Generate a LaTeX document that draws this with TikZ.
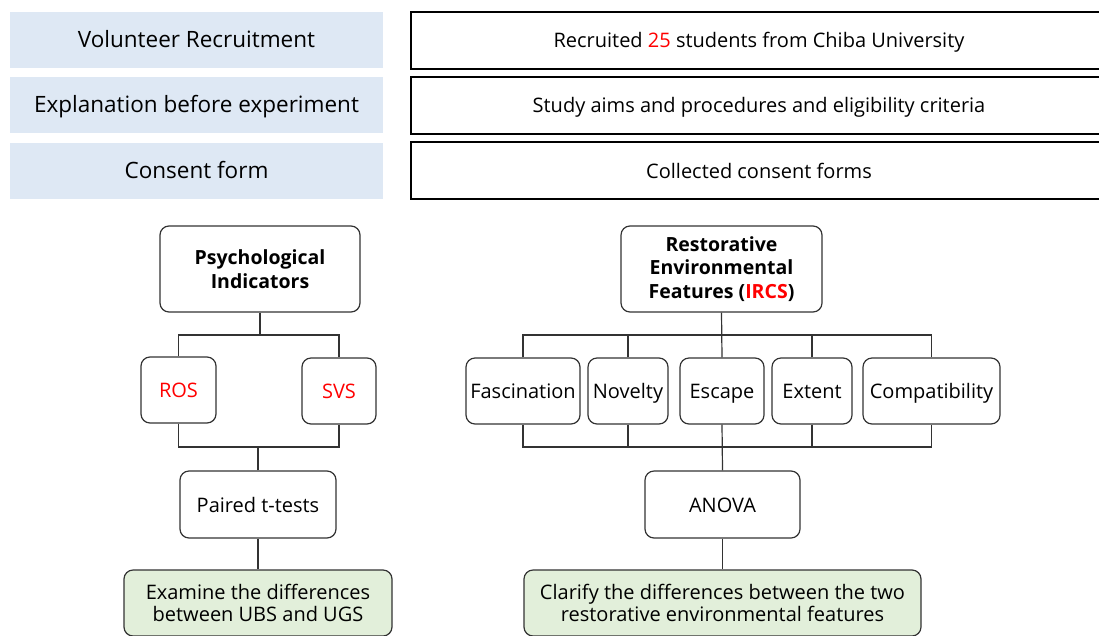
\documentclass[tikz,border=0pt]{standalone}
\usepackage{fontspec}
\setmainfont{Open Sans}
\usetikzlibrary{calc}
\definecolor{stepblue}{HTML}{DEE8F4}
\definecolor{resgreen}{HTML}{E2EFDA}
\definecolor{hlred}{HTML}{FF0000}
\definecolor{edge}{HTML}{333333}
\tikzset{
  oneline/.style={text height=17pt, text depth=2pt},
  phase/.style={fill=stepblue, draw=none, minimum width=373pt, minimum height=56pt, inner sep=0pt, oneline, font=\fontsize{22.5}{26}\selectfont},
  detail/.style={draw=black, line width=2pt, minimum width=696pt, minimum height=57pt, inner sep=0pt, oneline, font=\fontsize{20}{24}\selectfont},
  rbox/.style={draw=edge, line width=1.2pt, rounded corners=9pt, inner sep=0pt, align=center, font=\fontsize{20}{23}\selectfont},
  leaf/.style={rbox, oneline},
  head/.style={rbox, font=\bfseries\fontsize{19.5}{23.5}\selectfont},
  outcome/.style={rbox, fill=resgreen, font=\fontsize{20}{22}\selectfont},
  link/.style={draw=edge, line width=1.2pt},
}
\begin{document}
\begin{tikzpicture}[x=1pt, y=-1pt]
\clip (0,0) rectangle (1099,635);
\fill[white] (0,0) rectangle (1099,635);

% procedure steps
\node[phase] (p1) at (196.5,40) {Volunteer Recruitment};
\node[phase] (p2) at (196.5,105) {Explanation before experiment};
\node[phase] (p3) at (196.5,170.5) {Consent form};
\node[detail] (d1) at (759,40) {Recruited \textcolor{hlred}{25} students from Chiba University};
\node[detail] (d2) at (759,105) {Study aims and procedures and eligibility criteria};
\node[detail] (d3) at (759,170.5) {Collected consent forms};

% psychological branch
\node[head, minimum width=200pt, minimum height=86pt] (psy) at (260,269) {Psychological\\Indicators};
\node[leaf, minimum width=75pt, minimum height=66pt, text=hlred] (ros) at (178.5,390) {ROS};
\node[leaf, minimum width=74pt, minimum height=66pt, text=hlred] (svs) at (339,391) {SVS};
\node[leaf, minimum width=156pt, minimum height=67pt] (ttest) at (258,504.5) {Paired t-tests};
\node[outcome, minimum width=268pt, minimum height=66pt] (exam) at (258,603) {Examine the differences\\between UBS and UGS};

\coordinate (pa) at (0,335);
\coordinate (pb) at (0,447);
\draw[link] (psy.south) -- (psy.south |- pa);
\draw[link] (ros.north) |- (pa -| psy.south) -| (svs.north);
\draw[link] (ros.south) |- (pb -| ttest.north) -| (svs.south);
\draw[link] (ttest.north) -- (ttest.north |- pb);
\draw[link] (ttest.south) -- (exam.north);

% environmental branch
\node[head, minimum width=201pt, minimum height=86pt] (env) at (721.5,269) {Restorative\\Environmental\\Features (\textcolor{hlred}{IRCS})};
\node[leaf, minimum width=114pt, minimum height=66pt] (fas) at (523,391) {Fascination};
\node[leaf, minimum width=80pt, minimum height=66pt] (nov) at (628,391) {Novelty};
\node[leaf, minimum width=84pt, minimum height=66pt] (esc) at (722,391) {Escape};
\node[leaf, minimum width=80pt, minimum height=66pt] (ext) at (812,391) {Extent};
\node[leaf, minimum width=137pt, minimum height=66pt] (com) at (931.5,391) {Compatibility};
\node[leaf, minimum width=155pt, minimum height=67pt] (anova) at (722.5,504.5) {ANOVA};
\node[outcome, minimum width=397pt, minimum height=66pt] (clar) at (722.5,603) {Clarify the differences between the two\\restorative environmental features};

\coordinate (ea) at (0,335);
\coordinate (eb) at (0,447);
\draw[link] (fas.north) |- (ea -| env.south) -| (com.north);
\draw[link] (env.south) -- (esc.north);
\draw[link] (nov.north) -- (nov.north |- ea);
\draw[link] (ext.north) -- (ext.north |- ea);
\draw[link] (fas.south) |- (eb -| esc.south) -| (com.south);
\draw[link] (nov.south) -- (nov.south |- eb);
\draw[link] (ext.south) -- (ext.south |- eb);
\draw[link] (esc.south) -- (anova.north);
\draw[link] (anova.south) -- (clar.north);
\end{tikzpicture}
\end{document}
